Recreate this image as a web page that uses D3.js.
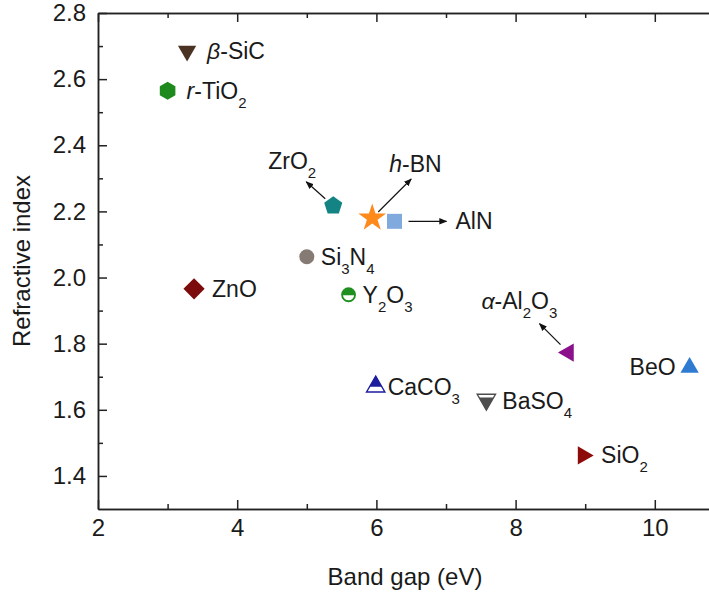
<!DOCTYPE html>
<html lang="en">
<head>
<meta charset="UTF-8">
<title>Refractive index vs band gap</title>
<script src="https://cdn.jsdelivr.net/npm/d3@7"></script>
<style>
    body{margin:0;background:#fff;}
    text{font-family:Arial,"Liberation Sans",sans-serif;fill:#1a1a1a;}
</style>
</head>
<body>
<script>
    // data
    var materials = ["β-SiC","r-TiO2","ZrO2","h-BN","AlN","Si3N4","ZnO","Y2O3","α-Al2O3","BeO","CaCO3","BaSO4","SiO2"];
    var bandGap  = [3.28, 3.0, 5.38, 5.94, 6.26, 5.0, 3.38, 5.6, 8.76, 10.5, 5.99, 7.58, 8.97];
    var refIndex = [2.685, 2.565, 2.217, 2.18, 2.17, 2.063, 1.966, 1.948, 1.773, 1.728, 1.67, 1.631, 1.462];
    var xTicks = [2,4,6,8,10];
    var xMinor = [3,5,7,9];
    var yTicks = [1.4,1.6,1.8,2.0,2.2,2.4,2.6,2.8];
    var yMinor = [1.5,1.7,1.9,2.1,2.3,2.5,2.7];

    // marker style per material
    var shapes = ["tri-down","hexagon","pentagon","star","square","circle","diamond","half-circle","tri-left","tri-up","half-tri-up","half-tri-down","tri-right"];
    var colors = ["#4b3323","#1e8a1e","#138383","#ff8a1c","#80a9dd","#857b74","#7c0c0c","#1f8f1f","#8c0f8c","#2f7bd1","#1d1d9e","#4d4d4d","#8e0b0b"];
    // label placement: [dx, dy, anchor] and optional arrow [x1,y1,x2,y2], relative to marker
    var labelPos = [[20,8,"start"],[19,8,"start"],[-65,-37,"start"],[17,-46,"start"],[61,8,"start"],[14,8,"start"],
                    [18,8,"start"],[14,8,"start"],[-87,-44,"start"],[-14,8,"end"],[12,8,"start"],[16,9,"start"],[18,8,"start"]];
    var arrows = {2:[-8,-7,-27,-24], 3:[6,-6,39,-39], 4:[14,0,52,0], 8:[-8,-8,-29,-29]};

    var width = 709, height = 597;
    var margin = {left:98, top:13, bottom:88};
    var svg = d3.select("body").append("svg").attr("width",width).attr("height",height);

    var x = d3.scaleLinear().domain([2,11]).range([margin.left, margin.left + 9*69.6]);
    var y = d3.scaleLinear().domain([1.3,2.8]).range([height - margin.bottom, margin.top]);

    var defs = svg.append("defs");
    defs.append("marker").attr("id","arr").attr("viewBox","0 0 10 10")
        .attr("refX",9).attr("refY",5).attr("markerWidth",8).attr("markerHeight",8)
        .attr("markerUnits","userSpaceOnUse").attr("orient","auto")
        .append("path").attr("d","M0,1L10,5L0,9Z").attr("fill","#111");

    // axes, ticks pointing inward
    function axisStyle(g){
        g.selectAll("path,line").attr("stroke","#222").attr("stroke-width",1.5);
        g.selectAll("text").attr("font-size",24).attr("fill","#1a1a1a");
    }
    var x0 = y.range()[0], y0 = x.range()[0];
    svg.append("g").attr("transform","translate(0,"+x0+")")
        .call(d3.axisBottom(x).tickValues(xTicks).tickSizeInner(-9).tickSizeOuter(0).tickPadding(10).tickFormat(d3.format("d")))
        .call(axisStyle);
    svg.append("g").attr("transform","translate(0,"+x0+")")
        .call(d3.axisBottom(x).tickValues(xMinor).tickSizeInner(-5).tickSizeOuter(0).tickFormat(""))
        .call(axisStyle);
    svg.append("g").attr("transform","translate(0,"+margin.top+")")
        .call(d3.axisTop(x).tickValues(xTicks).tickSizeInner(-9).tickSizeOuter(0).tickFormat(""))
        .call(axisStyle);
    svg.append("g").attr("transform","translate(0,"+margin.top+")")
        .call(d3.axisTop(x).tickValues(xMinor).tickSizeInner(-5).tickSizeOuter(0).tickFormat(""))
        .call(axisStyle);
    svg.append("g").attr("transform","translate("+y0+",0)")
        .call(d3.axisLeft(y).tickValues(yTicks).tickSizeInner(-9).tickSizeOuter(0).tickPadding(12).tickFormat(d3.format(".1f")))
        .call(axisStyle);
    svg.append("g").attr("transform","translate("+y0+",0)")
        .call(d3.axisLeft(y).tickValues(yMinor).tickSizeInner(-5).tickSizeOuter(0).tickFormat(""))
        .call(axisStyle);

    svg.append("text").attr("x",405).attr("y",585).attr("text-anchor","middle")
        .attr("font-size",24).text("Band gap (eV)");
    svg.append("text").attr("transform","translate(30,"+((y.range()[0]+y.range()[1])/2)+") rotate(-90)")
        .attr("text-anchor","middle").attr("font-size",24).text("Refractive index");

    function polygon(n, r){
        var pts = d3.range(n).map(function(k){
            var a = -Math.PI/2 + k*2*Math.PI/n;
            return [r*Math.cos(a), r*Math.sin(a)];
        });
        return "M" + pts.join("L") + "Z";
    }
    var tri = d3.symbol().type(d3.symbolTriangle).size(145)();

    function drawMarker(g, shape, color, i){
        if (shape == "tri-down" || shape == "tri-up" || shape == "tri-left" || shape == "tri-right"){
            var rot = {"tri-up":0,"tri-down":180,"tri-left":-90,"tri-right":90}[shape];
            g.append("path").attr("d",tri).attr("transform","rotate("+rot+")").attr("fill",color);
        } else if (shape == "hexagon"){
            g.append("path").attr("d",polygon(6,9)).attr("fill",color);
        } else if (shape == "pentagon"){
            g.append("path").attr("d",polygon(5,9.5)).attr("fill",color);
        } else if (shape == "star"){
            g.append("path").attr("d",d3.symbol().type(d3.symbolStar).size(240)()).attr("fill",color);
        } else if (shape == "square"){
            g.append("rect").attr("x",-7.5).attr("y",-7.5).attr("width",15).attr("height",15).attr("fill",color);
        } else if (shape == "diamond"){
            g.append("rect").attr("x",-7.5).attr("y",-7.5).attr("width",15).attr("height",15)
                .attr("transform","rotate(45)").attr("fill",color);
        } else if (shape == "circle"){
            g.append("circle").attr("r",7.5).attr("fill",color);
        } else if (shape == "half-circle"){
            g.append("circle").attr("r",6.5).attr("fill","#fff").attr("stroke",color).attr("stroke-width",1.8);
            g.append("path").attr("d","M-6.5,0.5A6.5,6.5 0 0 1 6.5,0.5Z").attr("fill",color);
        } else if (shape == "half-tri-up" || shape == "half-tri-down"){
            var up = shape == "half-tri-up";
            var id = "clip" + i;
            defs.append("clipPath").attr("id",id).append("rect")
                .attr("x",-12).attr("width",24)
                .attr("y", up ? -12 : -2).attr("height", up ? 12 : 14);
            g.append("path").attr("d",tri).attr("transform","rotate("+(up?0:180)+")")
                .attr("fill","#fff").attr("stroke",color).attr("stroke-width",1.4);
            g.append("g").attr("clip-path","url(#"+id+")")
                .append("path").attr("d",tri).attr("transform","rotate("+(up?0:180)+")").attr("fill",color);
        }
    }

    function writeLabel(t, name){
        var m = name.match(/^(\S)-(.*)$/);
        var rest = name;
        if (m){
            t.append("tspan").attr("font-style","italic").text(m[1]);
            rest = "-" + m[2];
        }
        var down = false;
        rest.split(/(\d+)/).forEach(function(part){
            if (!part) return;
            if (/^\d+$/.test(part)){
                t.append("tspan").attr("font-size",15).attr("dy",9).text(part);
                down = true;
            } else {
                t.append("tspan").attr("dy",down ? -9 : 0).text(part);
                down = false;
            }
        });
    }

    var points = svg.selectAll("g.pt").data(materials).enter().append("g")
        .attr("class","pt")
        .attr("transform",function(d,i){ return "translate("+x(bandGap[i])+","+y(refIndex[i])+")"; });

    points.each(function(d,i){
        var g = d3.select(this);
        drawMarker(g, shapes[i], colors[i], i);
        if (arrows[i]){
            var a = arrows[i];
            g.append("line").attr("x1",a[0]).attr("y1",a[1]).attr("x2",a[2]).attr("y2",a[3])
                .attr("stroke","#111").attr("stroke-width",1.2).attr("marker-end","url(#arr)");
        }
        var lp = labelPos[i];
        var t = g.append("text").attr("x",lp[0]).attr("y",lp[1]).attr("text-anchor",lp[2]).attr("font-size",23);
        writeLabel(t, d);
    });
</script>
</body>
</html>
